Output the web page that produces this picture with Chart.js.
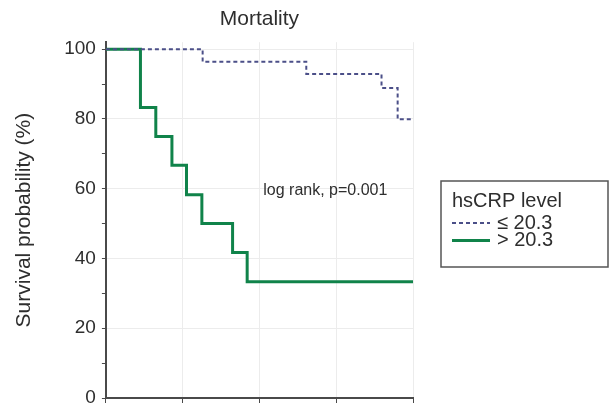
<!DOCTYPE html>
<html>
<head>
<meta charset="utf-8">
<script src="https://cdn.jsdelivr.net/npm/chart.js@4/dist/chart.umd.min.js"></script>
<style>
  html, body { margin: 0; padding: 0; background: #fff; overflow: hidden; }
  #wrap { width: 609px; height: 403px; overflow: hidden; }
  #c { display: block; }
</style>
</head>
<body>
<div id="wrap"><canvas id="c" width="609" height="420"></canvas></div>
<script>
// Kaplan-Meier survival by hsCRP level
const chartTitle = 'Mortality';
const yTitle = 'Survival probability (%)';
const legendTitle = 'hsCRP level';
const statText = 'log rank, p=0.001';

const lowLabel = '\u2264 20.3';
const lowTimes = [0, 12.6, 26.1, 35.9, 38.0, 40];
const lowSurvival = [100, 96.4, 92.9, 88.9, 79.9, 79.9];

const highLabel = '> 20.3';
const highTimes = [0, 4.5, 6.5, 8.6, 10.5, 12.5, 16.5, 18.4, 40];
const highSurvival = [100, 83.3, 75, 66.7, 58.3, 50, 41.7, 33.3, 33.3];

const yTickValues = [0, 10, 20, 30, 40, 50, 60, 70, 80, 90, 100];
const xTickValues = [0, 10, 20, 30, 40];

const toPoints = (xs, ys) => xs.map((x, i) => ({ x: x, y: ys[i] }));

const FONT = '"Liberation Sans", Arial, Helvetica, sans-serif';
const TEXT = '#2e2e2e';
const AXIS = '#4a4a4a';
const GRID = '#ececec';

// legend box with a title line and one sample per dataset
const boxLegend = {
  id: 'boxLegend',
  afterDraw(chart) {
    const ctx = chart.ctx;
    const a = chart.chartArea;
    const left = a.right + 28, top = 181, w = 167, h = 86;
    ctx.save();
    ctx.strokeStyle = '#555';
    ctx.lineWidth = 1.5;
    ctx.strokeRect(left, top, w, h);
    ctx.fillStyle = TEXT;
    ctx.font = '20px ' + FONT;
    ctx.textBaseline = 'middle';
    ctx.textAlign = 'left';
    ctx.fillText(legendTitle, left + 11, top + 20);
    chart.data.datasets.forEach((ds, i) => {
      const y = top + 42 + i * 17.5;
      ctx.beginPath();
      ctx.strokeStyle = ds.borderColor;
      ctx.lineWidth = ds.borderWidth;
      ctx.setLineDash(ds.borderDash || []);
      ctx.moveTo(left + 11, y);
      ctx.lineTo(left + 49, y);
      ctx.stroke();
      ctx.setLineDash([]);
      ctx.fillStyle = TEXT;
      ctx.fillText(ds.label, left + 56, y);
    });
    ctx.restore();
  }
};

// log-rank result placed in data coordinates
const statNote = {
  id: 'statNote',
  afterDatasetsDraw(chart) {
    const ctx = chart.ctx;
    const xs = chart.scales.x, ys = chart.scales.y;
    ctx.save();
    ctx.fillStyle = TEXT;
    ctx.font = '16px ' + FONT;
    ctx.textBaseline = 'middle';
    ctx.textAlign = 'left';
    ctx.fillText(statText, xs.getPixelForValue(20.5), ys.getPixelForValue(59.4));
    ctx.restore();
  }
};

new Chart(document.getElementById('c'), {
  type: 'line',
  data: {
    datasets: [
      {
        label: lowLabel,
        data: toPoints(lowTimes, lowSurvival),
        stepped: true,
        borderColor: '#4b4f88',
        borderWidth: 2,
        borderDash: [4, 3],
        pointRadius: 0,
        fill: false
      },
      {
        label: highLabel,
        data: toPoints(highTimes, highSurvival),
        stepped: true,
        borderColor: '#10834a',
        borderWidth: 3,
        pointRadius: 0,
        fill: false
      }
    ]
  },
  options: {
    responsive: false,
    animation: false,
    layout: { padding: { left: 0, right: 196, top: 0, bottom: 17 } },
    plugins: {
      legend: { display: false },
      tooltip: { enabled: false },
      title: {
        display: true,
        text: chartTitle,
        fullSize: false,
        color: TEXT,
        font: { family: FONT, size: 21, weight: 'normal' },
        padding: { top: 7, bottom: 10 }
      }
    },
    scales: {
      x: {
        type: 'linear',
        min: 0,
        max: 40,
        afterBuildTicks: (s) => { s.ticks = xTickValues.map(v => ({ value: v })); },
        ticks: { display: false },
        border: { color: AXIS, width: 2 },
        grid: { color: GRID, lineWidth: 1, tickLength: 5, tickColor: AXIS }
      },
      y: {
        min: 0,
        max: 102,
        afterBuildTicks: (s) => { s.ticks = yTickValues.map(v => ({ value: v })); },
        ticks: {
          color: TEXT,
          padding: 6,
          font: { family: FONT, size: 19 },
          callback: (v) => (v % 20 === 0 ? String(v) : '')
        },
        border: { color: AXIS, width: 2 },
        grid: {
          color: (c) => (c.tick && c.tick.value % 20 === 0 ? GRID : 'rgba(0,0,0,0)'),
          lineWidth: 1,
          tickLength: 4,
          tickColor: AXIS
        },
        title: {
          display: true,
          text: yTitle,
          color: TEXT,
          font: { family: FONT, size: 21 },
          padding: { top: 12, bottom: 21 }
        }
      }
    }
  },
  plugins: [boxLegend, statNote]
});
</script>
</body>
</html>
